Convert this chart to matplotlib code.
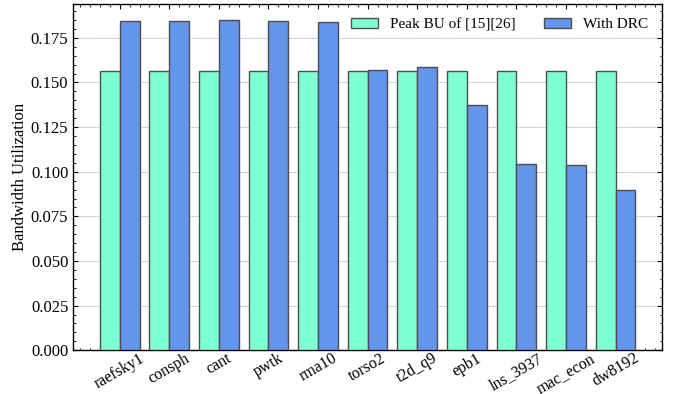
import numpy as np
import matplotlib
matplotlib.use('Agg')
import matplotlib.pyplot as plt
from matplotlib.ticker import AutoMinorLocator, MultipleLocator

# benchmark matrices and bandwidth utilization
matrices = ['raefsky1', 'consph', 'cant', 'pwtk', 'rma10', 'torso2',
            't2d_q9', 'epb1', 'lns_3937', 'mac_econ', 'dw8192']
peakBU = [0.1564, 0.1564, 0.1564, 0.1564, 0.1564, 0.1564,
          0.1564, 0.1564, 0.1564, 0.1564, 0.1564]
withDRC = [0.1842, 0.1847, 0.1849, 0.1843, 0.1838, 0.1570,
           0.1584, 0.1372, 0.1044, 0.1035, 0.0900]

plt.rcParams['font.family'] = 'Liberation Serif'
plt.rcParams['font.size'] = 12

fig = plt.figure(figsize=(6.77, 3.94), dpi=100)
ax = fig.add_axes([0.108, 0.111, 0.870, 0.879])

x = np.arange(len(matrices))
w = 0.4
ax.bar(x - w/2, peakBU, w, color='aquamarine', edgecolor='0.3', linewidth=1,
       label='Peak BU of [15][26]', zorder=3)
ax.bar(x + w/2, withDRC, w, color='cornflowerblue', edgecolor='0.3', linewidth=1,
       label='With DRC', zorder=3)

ax.set_xticks(x)
ax.set_xticklabels(matrices, rotation=30, fontsize=11.5)
ax.set_ylabel('Bandwidth Utilization', labelpad=2)
ax.yaxis.set_major_locator(MultipleLocator(0.025))
ax.yaxis.set_major_formatter(plt.FormatStrFormatter('%.3f'))
ax.xaxis.set_minor_locator(AutoMinorLocator(5))
ax.yaxis.set_minor_locator(AutoMinorLocator(5))
ax.set_ylim(0, 0.194)

ax.grid(axis='y', linestyle=(0, (1, 1)), linewidth=0.6, color='0.6', zorder=0)

ax.tick_params(which='both', direction='in', top=True, right=True)
ax.tick_params(which='major', length=3.5, width=0.8)
ax.tick_params(which='minor', length=1.8, width=0.6)
ax.tick_params(axis='x', pad=0)
for s in ax.spines.values():
    s.set_linewidth(1)

ax.legend(loc='upper right', ncol=2, frameon=False, bbox_to_anchor=(1.0, 1.0),
          fontsize=11, handlelength=1.8, columnspacing=1.8)

plt.savefig('out.png', dpi=100)
